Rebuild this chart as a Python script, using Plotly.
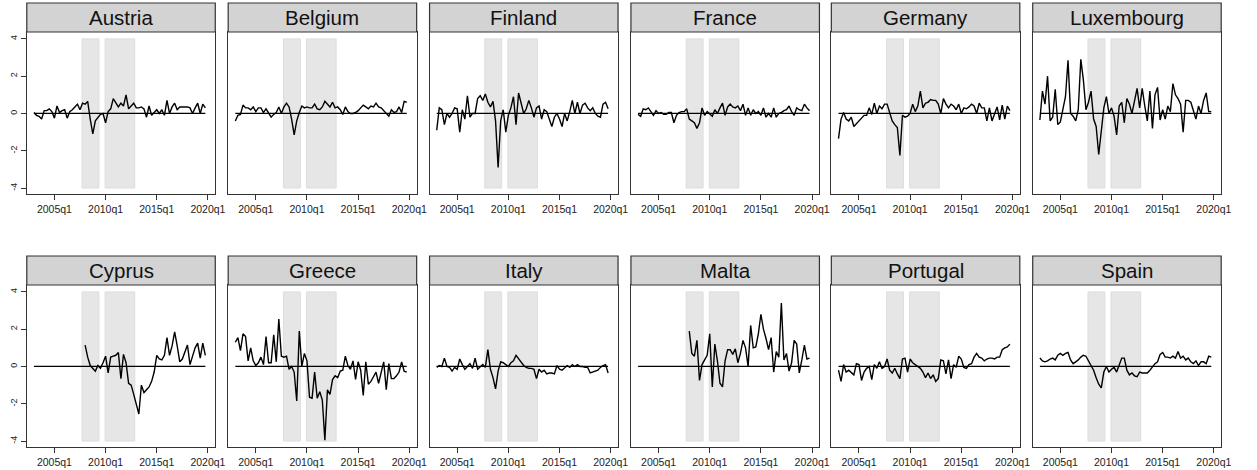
import plotly.graph_objects as go

# ---------------- data ----------------
countries = ["Austria", "Belgium", "Finland", "France", "Germany", "Luxembourg",
             "Cyprus", "Greece", "Italy", "Malta", "Portugal", "Spain"]
first_quarter = "2003q1"
last_quarter = "2019q4"
tick_labels = ["2005q1", "2010q1", "2015q1", "2020q1"]
y_ticks = [-4, -2, 0, 2, 4]
shade_periods = [("2007q4", "2009q2"), ("2010q1", "2012q4")]

austria = [0.05, -0.1, -0.15, -0.3, 0.15, 0.15, 0.25, 0.1, -0.25, 0.4,
           0.05, 0.15, 0.2, -0.25, 0.1, 0.2, 0.35, 0.5, 0.2, 0.55,
           0.5, 0.65, -0.3, -1.1, -0.4, -0.25, -0.05, 0.0, -0.5, 0.1,
           0.25, 0.8, 0.55, 0.35, 0.55, 0.4, 1.0, 0.25, 0.4, 0.55,
           0.3, 0.3, 0.35, 0.25, -0.2, 0.4, -0.1, 0.05, 0.2, 0.0,
           0.2, -0.1, 0.7, 0.0, 0.35, 0.55, 0.2, 0.35, 0.35, 0.35,
           0.35, 0.3, 0.0, 0.3, 0.55, 0.0, 0.5, 0.3]
belgium = [-0.4, -0.1, -0.05, 0.45, 0.3, 0.3, 0.2, 0.35, 0.1, 0.3,
           0.3, 0.05, 0.25, 0.0, -0.2, -0.05, 0.05, 0.35, 0.0, 0.35,
           0.55, 0.35, -0.3, -1.15, -0.4, 0.05, 0.4, 0.3, 0.35, 0.3,
           0.3, 0.5, 0.25, 0.2, 0.35, 0.65, 0.5, 0.35, 0.6, 0.3,
           0.35, 0.2, -0.05, 0.35, 0.1, 0.0, 0.0, 0.05, 0.15, 0.3,
           0.45, 0.35, 0.25, 0.4, 0.35, 0.55, 0.35, 0.3, 0.15, 0.0,
           -0.15, 0.2, 0.05, 0.1, 0.35, 0.05, 0.65, 0.6]
finland = [-0.9, 0.3, 0.2, -0.6, 0.0, -0.2, 0.0, 0.3, 0.25, -1.0,
           0.2, -0.3, 0.95, -0.2, 0.0, 0.0, 0.8, 0.95, 0.7, 1.05,
           0.6, 0.35, 0.65, -0.4, -2.9, -0.4, 0.2, -1.0, -0.1, 0.3,
           0.9, -0.6, 1.1, 0.6, 0.0, 0.25, 0.7, 0.3, -0.2, 0.3,
           0.4, -0.3, 0.2, 0.1, -0.3, -0.7, -0.2, 0.0, -0.3, -0.7,
           0.0, -0.4, 0.1, 0.7, 0.0, 0.6, 0.0, 0.45, 0.55, 0.3,
           0.15, 0.3, 0.0, -0.15, -0.2, 0.5, 0.6, 0.25]
france = [-0.05, -0.15, 0.25, 0.2, 0.3, 0.1, -0.1, 0.15, 0.0, 0.05,
          -0.05, -0.05, 0.05, 0.05, -0.5, -0.1, 0.05, 0.1, 0.1, 0.25,
          -0.3, -0.4, -0.5, -0.8, -0.5, 0.3, -0.1, 0.1, 0.0, -0.15,
          0.2, 0.0, 0.3, 0.55, -0.1, 0.35, 0.5, 0.35, 0.3, 0.4,
          0.15, 0.5, -0.1, 0.3, -0.1, 0.2, 0.0, 0.1, -0.1, 0.3,
          -0.2, 0.0, -0.2, 0.3, -0.2, 0.0, 0.05, 0.15, 0.2, 0.4,
          0.1, -0.1, 0.3, 0.2, 0.15, 0.5, 0.3, 0.15]
germany = [-1.35, -0.3, 0.05, -0.3, -0.4, -0.2, -0.7, -0.55, -0.4, -0.2,
           -0.1, -0.1, 0.3, -0.05, 0.55, 0.0, 0.4, 0.25, 0.5, 0.5,
           0.0, -0.4, -0.6, -0.75, -2.25, -0.1, -0.2, -0.15, 0.0, 0.5,
           0.1, 0.4, 1.2, 0.3, 0.55, 0.6, 0.75, 0.7, 0.7, 0.5,
           0.0, 0.8, 0.5, 0.3, 0.5, 0.4, 0.2, 0.5, 0.0, 0.3,
           0.25, 0.35, 0.5, 0.4, 0.0, 0.55, 0.3, 0.3, -0.4, 0.3,
           -0.4, 0.0, 0.35, -0.35, 0.45, -0.3, 0.4, 0.15]
luxembourg = [-0.35, 1.2, 0.5, 2.0, -0.4, -0.2, 1.3, -0.6, -0.45, 0.3,
              0.9, 2.85, 0.0, -0.15, -0.4, 0.2, 2.9, 1.8, 0.2, 0.6,
              1.2, -0.3, -0.7, -2.2, -0.8, 0.3, 0.9, 0.0, 0.3, -0.15,
              -1.15, 0.4, 0.6, -0.5, 0.8, 0.5, 0.0, 0.6, 1.35, 0.3,
              1.35, 0.4, -0.4, 1.2, -0.8, 1.0, 1.4, -0.35, 0.2, -0.3,
              0.4, 0.1, 1.6, 1.0, 0.8, 0.5, -1.0, 0.7, 0.7, 0.6,
              0.2, -0.3, 0.4, 0.0, 0.7, 1.1, 0.1, 0.1]
cyprus_start = "2008q1"
cyprus = [1.15, 0.5, 0.05, -0.1, -0.25, 0.05, -0.1, 0.2, 0.55, -0.35,
          0.5, 0.55, 0.6, 0.75, -0.65, 0.65, 0.2, -0.9, -1.0, -1.5,
          -2.1, -2.55, -1.0, -1.4, -1.25, -1.1, -0.8, -0.3, 0.6, 0.4,
          0.35, 0.6, 1.55, 0.6, 1.1, 1.85, 1.1, 0.25, 0.4, 0.8,
          1.15, 0.1, 0.6, 1.0, 1.25, 0.45, 1.25, 0.6]
greece = [1.3, 1.55, 0.85, 1.75, 1.6, 0.3, 1.0, 0.3, 0.05, 0.2,
          0.5, 0.1, 1.6, 0.2, 0.2, 1.7, 0.25, 2.55, 0.55, 0.5,
          0.55, -0.15, 0.0, -0.3, -1.85, 1.9, 0.0, 0.7, 0.3, -1.65,
          -1.7, -0.3, -1.7, -1.35, -1.8, -3.95, -1.25, -1.5, -0.7, -0.5,
          -0.6, -0.25, -0.2, 0.55, 0.05, -0.15, 0.3, -0.7, 0.25, -0.2,
          -1.55, 0.25, -0.95, -0.8, -0.55, -0.3, -0.9, -0.4, 0.25, -1.25,
          0.15, -0.65, -0.65, -0.5, -0.3, 0.25, -0.25, -0.3]
italy = [-0.05, 0.05, 0.0, 0.45, 0.0, -0.05, -0.25, -0.05, -0.15, 0.4,
         0.1, -0.15, 0.0, 0.15, -0.1, 0.45, -0.15, 0.0, 0.1, -0.05,
         0.9, -0.15, -0.6, -1.2, -0.25, 0.25, 0.2, 0.1, 0.0, 0.2,
         0.3, 0.6, 0.4, 0.2, 0.05, -0.05, -0.1, -0.1, -0.15, -0.65,
         -0.15, -0.3, -0.2, -0.4, -0.35, -0.35, -0.4, 0.05, -0.15, -0.2,
         -0.05, 0.05, -0.05, 0.1, 0.0, 0.1, 0.0, 0.0, -0.05, -0.05,
         -0.35, -0.3, -0.25, -0.2, -0.05, 0.05, 0.1, -0.35]
malta_start = "2008q1"
malta = [1.9, 0.7, 0.55, 1.4, -0.75, 0.1, 0.35, 0.6, 1.75, -1.1,
         1.2, 0.3, -0.9, -1.1, 0.3, 0.9, 0.9, 0.65, 0.95, 0.2,
         0.7, 1.4, 1.0, 0.0, 2.2, 1.0, 1.05, 1.75, 2.8, 2.0,
         1.5, 0.9, 1.55, -0.3, 0.8, 0.5, 3.4, 0.35, 0.7, -0.25,
         0.2, 1.4, 1.2, -0.35, 0.35, 1.15, 0.4, 0.45]
portugal = [-0.2, -0.8, 0.1, -0.3, -0.2, -0.3, -0.45, 0.15, 0.1, -0.75,
            -0.3, -0.1, 0.0, -0.7, 0.1, -0.1, 0.25, -0.1, 0.0, 0.4,
            -0.2, -0.35, -0.1, -0.4, -0.65, 0.4, 0.45, -0.3, 0.4, 0.2,
            0.1, 0.0, -0.1, -0.3, -0.6, -0.35, -0.65, -0.45, -0.8, -0.65,
            0.35, 0.3, -0.4, 0.35, -0.65, 0.1, -0.05, 0.55, 0.4, -0.05,
            -0.1, 0.1, 0.15, 0.5, 0.7, 0.5, 0.45, 0.3, 0.4, 0.45,
            0.45, 0.4, 0.5, 0.5, 0.9, 1.0, 1.05, 1.2]
spain = [0.45, 0.3, 0.25, 0.3, 0.4, 0.45, 0.35, 0.6, 0.7, 0.6,
         0.7, 0.75, 0.35, 0.15, 0.25, 0.35, 0.5, 0.6, 0.55, 0.3,
         0.1, -0.2, -0.6, -0.95, -1.15, -0.3, 0.0, -0.3, -0.15, -0.05,
         -0.3, 0.05, 0.45, 0.45, -0.2, -0.45, -0.35, -0.5, -0.55, -0.3,
         -0.35, -0.35, -0.35, -0.2, 0.0, 0.15, 0.25, 0.65, 0.75, 0.5,
         0.5, 0.45, 0.55, 0.45, 0.8, 0.45, 0.55, 0.35, 0.45, 0.25,
         0.15, 0.3, 0.05, 0.25, 0.25, 0.15, 0.55, 0.5]

series = {"Austria": (first_quarter, austria), "Belgium": (first_quarter, belgium),
          "Finland": (first_quarter, finland), "France": (first_quarter, france),
          "Germany": (first_quarter, germany), "Luxembourg": (first_quarter, luxembourg),
          "Cyprus": (cyprus_start, cyprus), "Greece": (first_quarter, greece),
          "Italy": (first_quarter, italy), "Malta": (malta_start, malta),
          "Portugal": (first_quarter, portugal), "Spain": (first_quarter, spain)}


def qnum(label):
    y, q = label.split("q")
    return int(y) + (int(q) - 1) / 4.0


for name, (start, vals) in series.items():
    n_expected = int(round((qnum(last_quarter) - qnum(start)) * 4)) + 1
    assert len(vals) == n_expected, (name, len(vals), n_expected)

# ---------------- layout geometry (pixels) ----------------
W, H = 1257, 470
col_left = [27, 230, 433, 636, 838, 1041]
panel_w = 190
rows = [(3, 32, 194), (256, 285, 447)]  # strip top, strip bottom / plot top, plot bottom
x_range = [2002.3, 2020.72]
y_range = [-4.32, 4.37]

fig = go.Figure()
layout = dict(width=W, height=H, margin=dict(l=0, r=0, t=0, b=0),
              paper_bgcolor="white", plot_bgcolor="white", showlegend=False,
              font=dict(family="Arial, Liberation Sans, sans-serif", color="#222"))
shapes = []
annotations = []

for k, name in enumerate(countries):
    r, c = divmod(k, 6)
    idx = "" if k == 0 else str(k + 1)
    st, sb, pb = rows[r]
    x0 = col_left[c] / W
    x1 = (col_left[c] + panel_w) / W
    y0 = 1 - pb / H
    y1 = 1 - sb / H
    xa = "x" + idx
    ya = "y" + idx

    layout["xaxis" + idx] = dict(
        domain=[x0, x1], range=x_range, anchor=ya, showgrid=False, zeroline=False,
        showline=True, mirror=True, linecolor="#333", linewidth=1,
        tickvals=[qnum(t) for t in tick_labels], ticktext=tick_labels,
        ticks="outside", ticklen=5, tickcolor="#333",
        tickfont=dict(size=10.5, color="#222"))
    layout["yaxis" + idx] = dict(
        domain=[y0, y1], range=y_range, anchor=xa, showgrid=False, zeroline=False,
        showline=True, mirror=True, linecolor="#333", linewidth=1,
        tickvals=y_ticks, ticktext=[str(v) for v in y_ticks],
        showticklabels=(c == 0), ticks="outside" if c == 0 else "",
        ticklen=5, tickcolor="#333", tickangle=-90,
        tickfont=dict(size=9, color="#222"))

    # shaded periods
    for a, b in shade_periods:
        shapes.append(dict(type="rect", xref=xa, yref=ya, x0=qnum(a) - 0.05, x1=qnum(b) + 0.1,
                           y0=-4, y1=4, fillcolor="#e6e6e6",
                           line=dict(color="#dddddd", width=1), layer="below"))

    # strip header
    shapes.append(dict(type="rect", xref="paper", yref="paper",
                       x0=x0, x1=x1, y0=1 - sb / H, y1=1 - st / H,
                       fillcolor="#d3d3d3", line=dict(color="#333", width=1.2)))
    annotations.append(dict(xref="paper", yref="paper", x=(x0 + x1) / 2,
                            y=1 - (st + sb) / 2 / H, text=name, showarrow=False,
                            font=dict(size=20.5, color="#111"),
                            xanchor="center", yanchor="middle"))

    # zero reference line
    fig.add_trace(go.Scatter(x=[qnum(first_quarter), qnum(last_quarter)], y=[0, 0],
                             mode="lines", line=dict(color="black", width=1.2),
                             xaxis=xa, yaxis=ya, hoverinfo="skip"))
    start, vals = series[name]
    xs = [qnum(start) + i / 4.0 for i in range(len(vals))]
    fig.add_trace(go.Scatter(x=xs, y=vals, mode="lines",
                             line=dict(color="black", width=1.4),
                             xaxis=xa, yaxis=ya, name=name))

layout["shapes"] = shapes
layout["annotations"] = annotations
fig.update_layout(**layout)
fig.write_html("out.html", config={"displayModeBar": False},
               post_script="document.body.style.margin='0px';document.body.style.overflow='hidden';")
